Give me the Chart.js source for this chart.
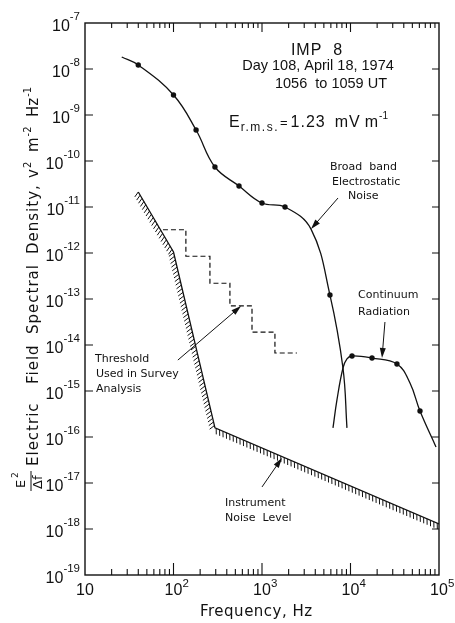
<!DOCTYPE html>
<html>
<head>
<meta charset="utf-8">
<script src="https://cdn.jsdelivr.net/npm/chart.js@4"></script>
<style>
  html, body { margin: 0; padding: 0; background: #fff; }
  canvas { display: block; }
</style>
</head>
<body>
<canvas id="spectrum" width="455" height="623"></canvas>
<script>
// Broadband electrostatic noise: fitted curve and measured points
const bbenFreq    = [26, 40, 100, 180, 294, 550, 1000, 1820, 3580, 5860, 8220, 9120];
const bbenDensity = [1.82e-8, 1.22e-8, 2.72e-9, 4.72e-10, 7.4e-11, 2.86e-11, 1.22e-11, 1.0e-11, 3.3e-12, 1.22e-13, 3.16e-15, 1.58e-16];
const bbenPointFreq    = [40, 100, 180, 294, 550, 1000, 1820, 5860];
const bbenPointDensity = [1.22e-8, 2.72e-9, 4.72e-10, 7.4e-11, 2.86e-11, 1.22e-11, 1.0e-11, 1.22e-13];

// Continuum radiation: fitted curve and measured points
const contFreq    = [6340, 7030, 8220, 9120, 10400, 17500, 33500, 47000, 61000, 92500];
const contDensity = [1.58e-16, 6.4e-16, 3.16e-15, 4.97e-15, 5.77e-15, 5.2e-15, 3.86e-15, 1.49e-15, 3.67e-16, 6.07e-17];
const contPointFreq    = [10400, 17500, 33500, 61000];
const contPointDensity = [5.77e-15, 5.2e-15, 3.86e-15, 3.67e-16];

// Instrument noise level (hatched below)
const noiseFreq    = [40, 100, 294, 100000];
const noiseDensity = [2.12e-11, 1.05e-12, 1.58e-16, 1.29e-18];

// Survey threshold, one step per channel
const threshFreq    = [76, 138, 258, 434, 771, 1400, 2480];
const threshDensity = [3.2e-12, 8.5e-13, 2.2e-13, 7.1e-14, 1.9e-14, 6.7e-15, 6.7e-15];

// Axis decades (powers of ten)
const xDecades = [1, 2, 3, 4, 5];
const yDecades = [-19, -18, -17, -16, -15, -14, -13, -12, -11, -10, -9, -8, -7];

// Label arrows: [freq, density] tail -> tip
const arrows = [
  { from: [7230, 1.57e-11], to: [3580, 3.33e-12] },
  { from: [24500, 3.16e-14], to: [22700, 5.2e-15] },
  { from: [112, 4.7e-15], to: [580, 7.05e-14] },
  { from: [1000, 8.2e-18], to: [1680, 3.5e-17] }
];

const pts = (xs, ys) => xs.map((x, i) => ({ x, y: ys[i] }));
const INK = "#111";
const SANS = "'Liberation Sans', Arial, sans-serif";
const DEJAVU = "'DejaVu Sans', sans-serif";

// draw a row of text pieces: [text, font, dx, dy, letterSpacing]
function runs(ctx, x, y, parts) {
  let cx = x;
  parts.forEach(p => {
    ctx.font = p[1];
    ctx.letterSpacing = (p[4] || 0) + "px";
    cx += p[2] || 0;
    ctx.fillText(p[0], cx, y + (p[3] || 0));
    cx += ctx.measureText(p[0]).width;
  });
  ctx.letterSpacing = "0px";
}

function arrow(ctx, x0, y0, x1, y1) {
  const a = Math.atan2(y1 - y0, x1 - x0);
  const L = 10, W = 3;
  ctx.beginPath();
  ctx.moveTo(x0, y0);
  ctx.lineTo(x1 - L * 0.8 * Math.cos(a), y1 - L * 0.8 * Math.sin(a));
  ctx.stroke();
  ctx.beginPath();
  ctx.moveTo(x1, y1);
  ctx.lineTo(x1 - L * Math.cos(a) + W * Math.sin(a), y1 - L * Math.sin(a) - W * Math.cos(a));
  ctx.lineTo(x1 - L * Math.cos(a) - W * Math.sin(a), y1 - L * Math.sin(a) + W * Math.cos(a));
  ctx.closePath();
  ctx.fill();
}

const decor = {
  id: "decor",
  afterDatasetsDraw(chart) {
    // hatch marks on the underside of the noise level line
    const ctx = chart.ctx;
    const p = chart.getDatasetMeta(4).data;
    ctx.save();
    ctx.strokeStyle = INK;
    ctx.lineWidth = 1;
    const step = 3.7, len = 6;
    let carry = 0;
    for (let i = 0; i < p.length - 1; i++) {
      const dx = p[i + 1].x - p[i].x, dy = p[i + 1].y - p[i].y;
      const d = Math.hypot(dx, dy);
      const ux = dx / d, uy = dy / d;
      let hx = -uy + 0.45 * ux, hy = ux + 0.45 * uy;
      const hn = Math.hypot(hx, hy);
      hx /= hn; hy /= hn;
      let s = carry;
      for (; s < d; s += step) {
        const sx = p[i].x + ux * s, sy = p[i].y + uy * s;
        ctx.beginPath();
        ctx.moveTo(sx, sy);
        ctx.lineTo(sx + hx * len, sy + hy * len);
        ctx.stroke();
      }
      carry = s - d;
    }
    ctx.restore();
  },
  afterDraw(chart) {
    const ctx = chart.ctx;
    const { left, right, top, bottom } = chart.chartArea;
    const xs = chart.scales.x, ys = chart.scales.y;
    ctx.save();
    ctx.strokeStyle = INK;
    ctx.fillStyle = INK;

    // frame
    ctx.lineWidth = 1.4;
    ctx.strokeRect(left, top, right - left, bottom - top);

    // inward ticks on all four sides
    ctx.lineWidth = 1.1;
    ctx.beginPath();
    xDecades.forEach((d, i) => {
      const X = xs.getPixelForValue(Math.pow(10, d));
      if (i > 0 && i < xDecades.length - 1) {
        ctx.moveTo(X, top); ctx.lineTo(X, top + 9);
        ctx.moveTo(X, bottom); ctx.lineTo(X, bottom - 12);
      }
      if (i < xDecades.length - 1) {
        for (let m = 2; m <= 9; m++) {
          const xm = xs.getPixelForValue(m * Math.pow(10, d));
          ctx.moveTo(xm, top); ctx.lineTo(xm, top + 5);
          ctx.moveTo(xm, bottom); ctx.lineTo(xm, bottom - 6);
        }
      }
    });
    yDecades.slice(1, -1).forEach(d => {
      const Y = ys.getPixelForValue(Math.pow(10, d));
      ctx.moveTo(left, Y); ctx.lineTo(left + 8, Y);
      ctx.moveTo(right, Y); ctx.lineTo(right - 7, Y);
    });
    ctx.stroke();

    // tick labels, 10 with raised exponent
    ctx.textBaseline = "alphabetic";
    ctx.textAlign = "left";
    const base = "16px " + SANS, sup = "11.5px " + SANS;
    yDecades.forEach(d => {
      const Y = ys.getPixelForValue(Math.pow(10, d));
      const e = "-" + (-d);
      ctx.font = sup;
      const ew = ctx.measureText(e).width;
      ctx.font = base;
      const bw = ctx.measureText("10").width;
      ctx.fillText("10", 80 - ew - bw, Y + 8);
      ctx.font = sup;
      ctx.fillText(e, 80 - ew, Y - 3);
    });
    xDecades.forEach(d => {
      const X = xs.getPixelForValue(Math.pow(10, d));
      ctx.font = base;
      const bw = ctx.measureText("10").width;
      ctx.fillText("10", X - bw / 2, 595);
      if (d > 1) {
        ctx.font = sup;
        ctx.fillText(String(d), X + bw / 2, 587);
      }
    });

    // axis titles
    runs(ctx, 200, 616, [["Frequency, Hz", "15px " + DEJAVU, 0, 0, 0.5]]);

    ctx.save();
    ctx.translate(38, 0);
    ctx.rotate(-Math.PI / 2);
    const tf = "15px " + DEJAVU, ts = "10px " + DEJAVU;
    ctx.letterSpacing = "1px";
    [["Electric", 466], ["Field", 384], ["Spectral", 334], ["Density,", 254]].forEach(w => {
      ctx.font = tf;
      ctx.fillText(w[0], -w[1], 0);
    });
    ctx.letterSpacing = "0px";
    runs(ctx, -178, 0, [["v", tf], ["2", ts, 1, -7]]);
    runs(ctx, -152, 0, [["m", tf], ["-2", ts, 1, -7]]);
    runs(ctx, -117, 0, [["Hz", tf], ["-1", ts, 1, -7]]);
    // E^2 over delta f
    ctx.font = "13px " + DEJAVU;
    ctx.fillText("E", -488, -13);
    ctx.font = "9px " + DEJAVU;
    ctx.fillText("2", -478, -20);
    ctx.font = "13px " + DEJAVU;
    ctx.fillText("\u0394f", -489, 4);
    ctx.lineWidth = 1;
    ctx.beginPath();
    ctx.moveTo(-491, -7); ctx.lineTo(-471, -7);
    ctx.stroke();
    ctx.restore();

    // heading block
    ctx.textAlign = "center";
    ctx.font = "16px " + SANS;
    ctx.letterSpacing = "1px";
    ctx.fillText("IMP  8", 317, 55);
    ctx.font = "14.5px " + SANS;
    ctx.letterSpacing = "0px";
    ctx.fillText("Day 108, April 18, 1974", 318, 70);
    ctx.fillText("1056  to 1059 UT", 331, 88);
    ctx.textAlign = "left";
    runs(ctx, 229, 127, [
      ["E", "16px " + SANS],
      ["r.m.s.", "12px " + SANS, 1, 4, 1.5],
      ["=", "13px " + SANS, 1, 0],
      ["1.23", "16px " + SANS, 3, 0, 1],
      ["mV", "16px " + SANS, 9, 0, 1],
      ["m", "16px " + SANS, 4, 0],
      ["-1", "10px " + SANS, 1, -8]
    ]);

    // curve labels
    ctx.font = "11px " + DEJAVU;
    [["Broad  band", 330, 170], ["Electrostatic", 332, 185], ["Noise", 348, 199],
     ["Continuum", 358, 298], ["Radiation", 358, 315],
     ["Threshold", 95, 362], ["Used in Survey", 96, 377], ["Analysis", 96, 392],
     ["Instrument", 225, 506], ["Noise  Level", 225, 521]].forEach(t => ctx.fillText(t[0], t[1], t[2]));

    // arrows
    ctx.lineWidth = 1;
    arrows.forEach(a => {
      arrow(ctx,
        xs.getPixelForValue(a.from[0]), ys.getPixelForValue(a.from[1]),
        xs.getPixelForValue(a.to[0]), ys.getPixelForValue(a.to[1]));
    });
    ctx.restore();
  }
};

const curve = { showLine: true, pointRadius: 0, borderColor: INK, borderWidth: 1.3,
                tension: 0.4, fill: false };
const dots  = { showLine: false, pointRadius: 2.7, pointBackgroundColor: INK, pointBorderWidth: 0 };

new Chart(document.getElementById("spectrum"), {
  type: "scatter",
  data: {
    datasets: [
      { ...curve, data: pts(bbenFreq, bbenDensity) },
      { ...dots,  data: pts(bbenPointFreq, bbenPointDensity) },
      { ...curve, data: pts(contFreq, contDensity) },
      { ...dots,  data: pts(contPointFreq, contPointDensity) },
      { showLine: true, pointRadius: 0, borderColor: INK, borderWidth: 1.3, tension: 0,
        data: pts(noiseFreq, noiseDensity) },
      { showLine: true, pointRadius: 0, borderColor: INK, borderWidth: 1.2, stepped: true,
        borderDash: [5, 3], data: pts(threshFreq, threshDensity) }
    ]
  },
  options: {
    responsive: false,
    animation: false,
    devicePixelRatio: 1,
    layout: { padding: { left: 85, right: 16, top: 23, bottom: 48 } },
    plugins: { legend: { display: false }, tooltip: { enabled: false } },
    scales: {
      x: { type: "logarithmic", min: 10, max: 1e5, display: false },
      y: { type: "logarithmic", min: 1e-19, max: 1e-7, display: false }
    }
  },
  plugins: [decor]
});
</script>
</body>
</html>
